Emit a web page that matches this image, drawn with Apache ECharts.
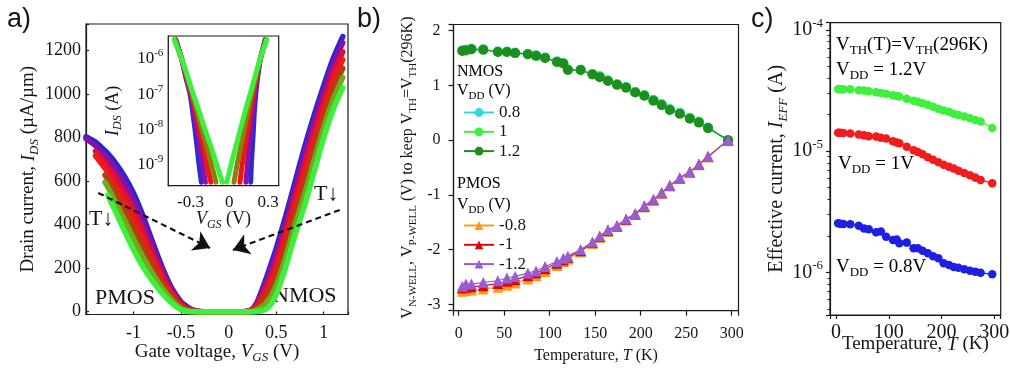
<!DOCTYPE html>
<html><head><meta charset="utf-8">
<script src="https://cdn.jsdelivr.net/npm/echarts@6/dist/echarts.min.js"></script>
<style>html,body{margin:0;padding:0;background:#fff}#c{width:1010px;height:372px}</style>
</head><body><div id="c"></div>
<script>
// ---------- Panel a: drain current vs gate voltage (temperature family, hot -> cold) ----------
const vgs = [-1.5,-1.4,-1.3,-1.27,-1.2,-1.1,-1.0,-0.9,-0.8,-0.7,-0.6,-0.5,-0.45,-0.4,-0.35,-0.3,-0.2,0,0.15,0.2,0.25,0.3,0.35,0.4,0.45,0.5,0.55,0.6,0.7,0.8,0.9,1.0,1.1,1.2];
const idsT1 = [805,780,740,727,690,625,545,440,320,205,110,45,27,12,5,1,0,0,0,2,12,45,100,160,225,290,365,440,600,760,905,1040,1165,1265];
const idsT2 = [795,763,718,704,664,595,514,412,298,191,102,41,24,11,4,1,0,0,0,2,11,40,88,142,203,265,338,412,571,728,874,1011,1137,1237];
const idsT3 = [null,738,686,669,624,550,467,370,266,169,89,34,19,8,3,0,0,0,0,1,8,32,71,116,169,227,297,370,527,679,827,968,1095,1195];
const idsT4 = [null,717,659,641,591,512,428,334,239,151,79,28,16,6,2,0,0,0,0,1,6,25,57,94,141,196,263,334,490,639,788,932,1059,1159];
const idsT5 = [null,null,628,608,554,470,384,294,208,131,67,22,11,4,1,0,0,0,0,0,4,18,40,69,109,160,224,294,448,593,744,891,1019,1119];
const idsT6 = [null,null,596,573,514,425,337,252,176,109,54,15,7,2,1,0,0,0,0,0,2,10,23,43,75,122,183,252,404,544,697,848,977,1077];
const idsT7 = [null,null,null,535,470,375,285,205,140,85,40,8,2,0,0,0,0,0,0,0,0,1,4,14,38,80,138,205,355,490,645,800,930,1030];
const aTicksX = [-1,-0.5,0,0.5,1];
const aTicksY = [0,200,400,600,800,1000,1200];
// annotation arrows (data coordinates): [startV, startI, endV, endI]
const arrowLeft = [-1.371, 546, -0.196, 293];
const arrowRight = [1.168, 468, 0.045, 284];

// ---------- Inset: log current vs gate voltage ----------
const insetLevels = [3.55e-6, 1e-6, 3.16e-7, 1e-7, 3.16e-8, 1e-8, 3.16e-9, 1e-9, 3.16e-10];
const insetP_T1 = [-0.414,-0.368,-0.337,-0.303,-0.283,-0.265,-0.249,-0.234,-0.216];
const insetP_T2 = [-0.416,-0.368,-0.334,-0.298,-0.273,-0.250,-0.227,-0.207,-0.184];
const insetP_T3 = [-0.419,-0.368,-0.330,-0.292,-0.260,-0.230,-0.200,-0.172,-0.143];
const insetP_T4 = [-0.422,-0.368,-0.326,-0.286,-0.247,-0.211,-0.174,-0.138,-0.103];
const insetP_T5 = [-0.425,-0.368,-0.321,-0.278,-0.232,-0.188,-0.141,-0.097,-0.054];
const insetN_T1 = [0.276,0.240,0.219,0.204,0.193,0.186,0.178,0.170,0.165];
const insetN_T2 = [0.279,0.239,0.215,0.195,0.179,0.166,0.152,0.139,0.128];
const insetN_T3 = [0.282,0.239,0.210,0.184,0.161,0.141,0.120,0.099,0.082];
const insetN_T4 = [0.285,0.238,0.205,0.173,0.143,0.115,0.088,0.060,0.036];
const insetN_T5 = [0.289,0.237,0.198,0.160,0.121,0.085,0.049,0.013,-0.020];
const insetTicksX = [-0.3,0,0.3];

// ---------- Panel b: well bias vs temperature ----------
const tempK = [4,8,14,27,43,53,62,76,85,95,108,115,120,134,147,155,164,174,184,194,204,214,223,232,243,254,264,274,296];
const nmos08 = [1.64,1.65,1.67,1.66,1.62,1.62,1.60,1.58,1.55,1.51,1.44,1.41,1.29,1.29,1.21,1.17,1.09,1.02,0.97,0.88,0.82,0.74,0.66,0.57,0.50,0.41,0.34,0.23,0.0];
const nmos10 = [1.64,1.65,1.66,1.65,1.62,1.61,1.59,1.57,1.54,1.50,1.43,1.40,1.29,1.28,1.21,1.16,1.09,1.02,0.96,0.88,0.82,0.73,0.65,0.56,0.49,0.40,0.33,0.22,0.0];
const nmos12 = [1.63,1.64,1.66,1.65,1.61,1.61,1.59,1.57,1.54,1.50,1.43,1.40,1.28,1.28,1.20,1.15,1.08,1.01,0.96,0.87,0.81,0.72,0.64,0.55,0.48,0.39,0.32,0.22,0.0];
const pmos08 = [-2.76,-2.75,-2.74,-2.72,-2.69,-2.65,-2.61,-2.54,-2.48,-2.40,-2.29,-2.22,-2.17,-2.04,-1.89,-1.78,-1.67,-1.58,-1.46,-1.36,-1.22,-1.10,-0.97,-0.84,-0.70,-0.59,-0.45,-0.31,0.0];
const pmos10 = [-2.70,-2.69,-2.68,-2.66,-2.62,-2.58,-2.55,-2.48,-2.43,-2.35,-2.25,-2.19,-2.14,-2.02,-1.87,-1.76,-1.65,-1.57,-1.45,-1.35,-1.21,-1.09,-0.96,-0.83,-0.69,-0.58,-0.44,-0.30,0.0];
const pmos12 = [-2.67,-2.63,-2.63,-2.60,-2.57,-2.52,-2.49,-2.43,-2.39,-2.31,-2.22,-2.16,-2.12,-2.00,-1.86,-1.75,-1.64,-1.56,-1.44,-1.34,-1.20,-1.08,-0.96,-0.83,-0.69,-0.58,-0.44,-0.30,0.0];
const bTicksX = [0,50,100,150,200,250,300];
const bTicksY = [-3,-2,-1,0,1,2];

// ---------- Panel c: effective current vs temperature ----------
const ieff12 = [3.26e-5,3.26e-5,3.24e-5,3.24e-5,3.18e-5,3.16e-5,3.12e-5,3.06e-5,3.02e-5,2.98e-5,2.89e-5,2.85e-5,2.82e-5,2.71e-5,2.61e-5,2.56e-5,2.48e-5,2.41e-5,2.33e-5,2.24e-5,2.17e-5,2.11e-5,2.04e-5,1.99e-5,1.93e-5,1.87e-5,1.81e-5,1.76e-5,1.55e-5];
const ieff10 = [1.42e-5,1.42e-5,1.41e-5,1.40e-5,1.37e-5,1.35e-5,1.33e-5,1.32e-5,1.29e-5,1.27e-5,1.21e-5,1.18e-5,1.16e-5,1.09e-5,1.02e-5,9.85e-6,9.42e-6,8.90e-6,8.51e-6,8.09e-6,7.74e-6,7.45e-6,7.18e-6,6.91e-6,6.61e-6,6.32e-6,6.05e-6,5.79e-6,5.43e-6];
const ieff08 = [2.54e-6,2.52e-6,2.51e-6,2.49e-6,2.42e-6,2.30e-6,2.27e-6,2.14e-6,2.17e-6,1.97e-6,1.85e-6,1.87e-6,1.74e-6,1.76e-6,1.58e-6,1.58e-6,1.51e-6,1.44e-6,1.36e-6,1.31e-6,1.19e-6,1.15e-6,1.11e-6,1.09e-6,1.06e-6,1.03e-6,1.01e-6,0.995e-6,0.964e-6];
const cTicksX = [0,100,200,300];

// ---------- helpers ----------
const SERIF = "'Liberation Serif','Times New Roman',serif";
const SANS = "'Liberation Sans',Arial,sans-serif";
const INK = '#161616';
function R(sz){
  const s = Math.round(sz*0.66), lh = Math.round(sz*1.3);
  const b = {fontFamily:SERIF, color:INK};
  return {
    n:{...b,fontSize:sz,lineHeight:lh},
    i:{...b,fontSize:sz,lineHeight:lh,fontStyle:'italic'},
    sub:{...b,fontSize:s,lineHeight:s,verticalAlign:'bottom'},
    isub:{...b,fontSize:s,lineHeight:s,verticalAlign:'bottom',fontStyle:'italic'},
    sup:{...b,fontSize:s,lineHeight:s,verticalAlign:'top'}
  };
}
const pick = list => v => list.some(t => Math.abs(t - v) < 1e-9) ? '{n|' + String(Math.round(v*1000)/1000) + '}' : '';
const pow10 = v => { const l = Math.log10(v), r = Math.round(l); return Math.abs(l - r) < 1e-6 ? '{n|10}{sup|' + r + '}' : ''; };
const zip = (xs, ys) => xs.map((x, i) => [x, ys[i]]);

const bandColors = ['#2626d6','#8412a6','#d8103c','#f01818','#b04010','#74a81c','#3ef03e'];
const bandData = [idsT1, idsT2, idsT3, idsT4, idsT5, idsT6, idsT7];
const insetColors = ['#2a2ad6','#8a14a8','#f01414','#8a8010','#3ef03e'];
const insetP = [insetP_T1, insetP_T2, insetP_T3, insetP_T4, insetP_T5];
const insetN = [insetN_T1, insetN_T2, insetN_T3, insetN_T4, insetN_T5];

const series = [];
bandData.forEach((d, k) => series.push({
  type:'line', xAxisIndex:0, yAxisIndex:0, data: zip(vgs, d), showSymbol:false, smooth:0.2,
  lineStyle:{width:5.5, color:bandColors[k], cap:'round'}, silent:true, z:2
}));
series.push({
  type:'line', xAxisIndex:0, yAxisIndex:0, data:[], silent:true, z:5,
  markLine:{silent:true, animation:false, label:{show:false}, emphasis:{disabled:true},
    lineStyle:{color:'#111', width:2.2, type:[6,4]},
    data:[
      [{coord:[arrowLeft[0],arrowLeft[1]], symbol:'none'},{coord:[arrowLeft[2],arrowLeft[3]], symbol:'arrow', symbolSize:16}],
      [{coord:[arrowRight[0],arrowRight[1]], symbol:'none'},{coord:[arrowRight[2],arrowRight[3]], symbol:'arrow', symbolSize:16}]
    ]}
});
insetP.forEach((d, k) => series.push({
  type:'line', xAxisIndex:1, yAxisIndex:1, data: zip(d, insetLevels), showSymbol:false, smooth:0.2,
  lineStyle:{width:5, color:insetColors[k], cap:'round'}, silent:true, z:3
}));
insetN.forEach((d, k) => series.push({
  type:'line', xAxisIndex:1, yAxisIndex:1, data: zip(d, insetLevels), showSymbol:false, smooth:0.2,
  lineStyle:{width:5, color:insetColors[k], cap:'round'}, silent:true, z:3
}));
function bSeries(name, ys, color, sym, size){
  return {name, type:'line', xAxisIndex:2, yAxisIndex:2, data: zip(tempK, ys), symbol:sym, symbolSize:size,
    itemStyle:{color}, lineStyle:{color, width:1.2}, silent:true, z:3};
}
series.push(bSeries('0.8', nmos08, '#2ad8e6', 'circle', 10));
series.push(bSeries('1', nmos10, '#3cf03c', 'circle', 10));
series.push(bSeries('1.2', nmos12, '#1e8f1e', 'circle', 10));
series.push(bSeries('-0.8', pmos08, '#ff9a18', 'triangle', 11));
series.push(bSeries('-1', pmos10, '#d80a0a', 'triangle', 11));
series.push(bSeries('-1.2', pmos12, '#9a5cd0', 'triangle', 11));
function cSeries(ys, color){
  return {type:'line', xAxisIndex:3, yAxisIndex:3, data: zip(tempK, ys), symbol:'circle', symbolSize:8.5,
    itemStyle:{color}, lineStyle:{color, width:1.2}, silent:true, z:3};
}
series.push(cSeries(ieff12, '#3cf03c'));
series.push(cSeries(ieff10, '#f21c1c'));
series.push(cSeries(ieff08, '#1e1ee6'));

const gridBase = {show:true, borderColor:'#1a1a1a', borderWidth:1.2, containLabel:false, outerBoundsMode:'none'};
function axisCommon(sz, inside, len){
  return {
    nameMoveOverlap:false,
    axisLine:{show:true, onZero:false, lineStyle:{color:'#1a1a1a', width:1.2}},
    axisTick:{show:true, inside, length:len, lineStyle:{color:'#1a1a1a', width:1.2}},
    splitLine:{show:false},
    axisLabel:{rich:R(sz), fontFamily:SERIF, fontSize:sz, color:INK, hideOverlap:false}
  };
}

const option = {
  animation:false,
  backgroundColor:'#fff',
  grid:[
    {...gridBase, left:86, top:24, width:262, height:290.5},
    {...gridBase, left:168.3, top:36, width:110.4, height:149.7, backgroundColor:'#fff', z:3},
    {...gridBase, left:453.5, top:24.5, width:285, height:286.2},
    {...gridBase, left:830, top:22.7, width:170.7, height:292.3}
  ],
  xAxis:[
    (()=>{const a=axisCommon(18,true,3); return {...a, type:'value', gridIndex:0, min:-1.5, max:1.255, splitNumber:5,
      axisLabel:{...a.axisLabel, margin:7, formatter:pick(aTicksX)},
      name:'{n|Gate voltage, }{i|V}{isub|GS}{n| (V)}', nameLocation:'middle', nameGap:25, nameTextStyle:{rich:R(19)}};})(),
    (()=>{const a=axisCommon(17,true,3); return {...a, type:'value', gridIndex:1, min:-0.471, max:0.381, splitNumber:3,
      axisLabel:{...a.axisLabel, margin:6, formatter:pick(insetTicksX)},
      name:'{i|V}{isub|GS}{n| (V)}', nameLocation:'middle', nameGap:22, nameTextStyle:{rich:R(18)}};})(),
    (()=>{const a=axisCommon(16,false,5); return {...a, type:'value', gridIndex:2, min:-5.7, max:307.5, splitNumber:6,
      axisLabel:{...a.axisLabel, margin:13, formatter:pick(bTicksX)},
      name:'{n|Temperature, }{i|T}{n| (K)}', nameLocation:'middle', nameGap:35, nameTextStyle:{rich:R(16)}};})(),
    (()=>{const a=axisCommon(20,false,4); return {...a, type:'value', gridIndex:3, min:-11.4, max:312.1, splitNumber:3,
      axisLabel:{...a.axisLabel, margin:5, formatter:pick(cTicksX)},
      name:'{n|Temperature, }{i|T}{n| (K)}', nameLocation:'middle', nameGap:17, nameTextStyle:{rich:R(19)}};})()
  ],
  yAxis:[
    (()=>{const a=axisCommon(18,true,3); return {...a, type:'value', gridIndex:0, min:-13, max:1323, splitNumber:7,
      axisLabel:{...a.axisLabel, margin:5, formatter:pick(aTicksY)},
      name:'{n|Drain current, }{i|I}{isub|DS}{n| (µA/µm)}', nameLocation:'middle', nameGap:45, nameRotate:90, nameTextStyle:{rich:R(19)}};})(),
    (()=>{const a=axisCommon(17,true,3); return {...a, type:'log', logBase:10, gridIndex:1, min:2.51e-10, max:4.50e-6,
      axisLabel:{...a.axisLabel, margin:5, formatter:pow10},
      name:'{i|I}{isub|DS}{n| (A)}', nameLocation:'middle', nameGap:44, nameRotate:90, nameTextStyle:{rich:R(18)}};})(),
    (()=>{const a=axisCommon(16,false,5); return {...a, type:'value', gridIndex:2, min:-3.117, max:2.113, splitNumber:5,
      axisLabel:{...a.axisLabel, margin:13, formatter:pick(bTicksY)},
      name:'{n|V}{sub|N-WELL}{n|, V}{sub|P-WELL}{n| (V) to keep V}{sub|TH}{n|=V}{sub|TH}{n|(296K)}', nameLocation:'middle', nameGap:35, nameRotate:90, nameTextStyle:{rich:R(16)}};})(),
    (()=>{const a=axisCommon(20,false,4); return {...a, type:'log', logBase:10, gridIndex:3, min:4.45e-7, max:1.148e-4,
      minorTick:{show:true, splitNumber:9, length:2.5, lineStyle:{color:'#1a1a1a', width:1}},
      axisLabel:{...a.axisLabel, margin:7, formatter:pow10},
      name:'{n|Effective current, }{i|I}{isub|EFF}{n| (A)}', nameLocation:'middle', nameGap:40, nameRotate:90, nameTextStyle:{rich:R(20)}};})()
  ],
  legend:[
    {data:['0.8','1','1.2'], orient:'vertical', left:458, top:99, itemWidth:30, itemHeight:11, itemGap:2.3, selectedMode:false,
     textStyle:{fontFamily:SERIF, fontSize:17, color:INK, lineHeight:13}},
    {data:['-0.8','-1','-1.2'], orient:'vertical', left:458, top:212, itemWidth:30, itemHeight:11, itemGap:2.3, selectedMode:false,
     textStyle:{fontFamily:SERIF, fontSize:17, color:INK, lineHeight:13}}
  ],
  graphic:[
    {type:'text', x:7, y:20, style:{text:'a)', font:'27px '+SANS, fill:INK, verticalAlign:'middle'}},
    {type:'text', x:357, y:20, style:{text:'b)', font:'27px '+SANS, fill:INK, verticalAlign:'middle'}},
    {type:'text', x:751, y:20, style:{text:'c)', font:'27px '+SANS, fill:INK, verticalAlign:'middle'}},
    {type:'text', x:95, y:298, style:{text:'PMOS', font:'22px '+SERIF, fill:INK, verticalAlign:'middle'}},
    {type:'text', x:273, y:296, style:{text:'NMOS', font:'22px '+SERIF, fill:INK, verticalAlign:'middle'}},
    {type:'text', x:89, y:219, style:{text:'T↓', font:'22px '+SERIF, fill:INK, verticalAlign:'middle'}},
    {type:'text', x:314, y:194, style:{text:'T↓', font:'22px '+SERIF, fill:INK, verticalAlign:'middle'}},
    {type:'text', x:457, y:72, style:{text:'{n|NMOS}', rich:R(16), verticalAlign:'middle'}},
    {type:'text', x:457, y:91, style:{text:'{n|V}{sub|DD}{n| (V)}', rich:R(16), verticalAlign:'middle'}},
    {type:'text', x:457, y:184, style:{text:'{n|PMOS}', rich:R(16), verticalAlign:'middle'}},
    {type:'text', x:457, y:205, style:{text:'{n|V}{sub|DD}{n| (V)}', rich:R(16), verticalAlign:'middle'}},
    {type:'text', x:836, y:45, style:{text:'{n|V}{sub|TH}{n|(T)=V}{sub|TH}{n|(296K)}', rich:R(19), verticalAlign:'middle'}},
    {type:'text', x:836, y:70, style:{text:'{n|V}{sub|DD}{n| = 1.2V}', rich:R(19), verticalAlign:'middle'}},
    {type:'text', x:838, y:164, style:{text:'{n|V}{sub|DD}{n| = 1V}', rich:R(19), verticalAlign:'middle'}},
    {type:'text', x:836, y:267, style:{text:'{n|V}{sub|DD}{n| = 0.8V}', rich:R(19), verticalAlign:'middle'}}
  ],
  series
};
const chart = echarts.init(document.getElementById('c'), null, {renderer:'canvas'});
chart.setOption(option);
</script>
</body></html>
